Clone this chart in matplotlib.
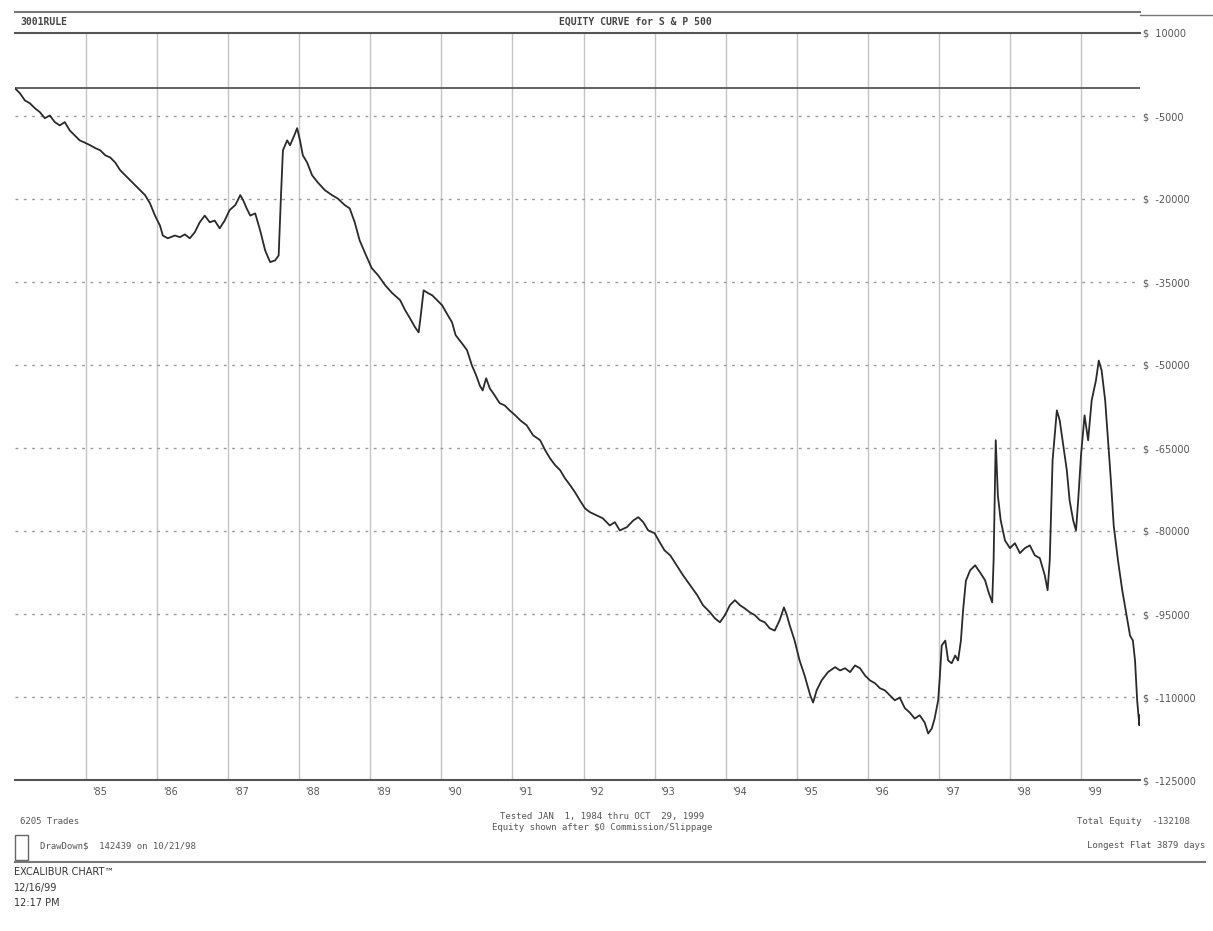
import matplotlib
matplotlib.use("Agg")
import matplotlib.pyplot as plt
from matplotlib.patches import Rectangle
from matplotlib.lines import Line2D

# ---------------- data ----------------
years = [1984.00, 1984.07, 1984.14, 1984.21, 1984.28, 1984.35, 1984.42, 1984.49, 1984.56, 1984.63,
         1984.70, 1984.77, 1984.84, 1984.91, 1984.98, 1985.06, 1985.13, 1985.20, 1985.27, 1985.34,
         1985.41, 1985.48, 1985.55, 1985.62, 1985.69, 1985.76, 1985.83, 1985.90, 1985.97, 1986.04,
         1986.08, 1986.15, 1986.25, 1986.32, 1986.39, 1986.46, 1986.53, 1986.60, 1986.67, 1986.74,
         1986.81, 1986.88, 1986.95, 1987.02, 1987.10, 1987.17, 1987.21, 1987.26, 1987.31, 1987.38,
         1987.45, 1987.52, 1987.59, 1987.66, 1987.71, 1987.74, 1987.77, 1987.83, 1987.87, 1987.93,
         1987.97, 1988.01, 1988.05, 1988.11, 1988.18, 1988.26, 1988.36, 1988.46, 1988.54, 1988.64,
         1988.71, 1988.78, 1988.85, 1988.94, 1989.02, 1989.11, 1989.21, 1989.30, 1989.42, 1989.49,
         1989.56, 1989.63, 1989.68, 1989.71, 1989.75, 1989.81, 1989.87, 1989.94, 1990.01, 1990.09,
         1990.15, 1990.20, 1990.29, 1990.36, 1990.43, 1990.49, 1990.54, 1990.58, 1990.63, 1990.68,
         1990.75, 1990.82, 1990.89, 1990.96, 1991.04, 1991.11, 1991.20, 1991.29, 1991.39, 1991.46,
         1991.53, 1991.60, 1991.67, 1991.74, 1991.81, 1991.88, 1991.95, 1992.02, 1992.09, 1992.19,
         1992.27, 1992.37, 1992.44, 1992.51, 1992.61, 1992.70, 1992.77, 1992.84, 1992.91, 1993.00,
         1993.07, 1993.14, 1993.22, 1993.31, 1993.40, 1993.50, 1993.60, 1993.68, 1993.78, 1993.85,
         1993.92, 1993.99, 1994.06, 1994.13, 1994.20, 1994.27, 1994.34, 1994.41, 1994.48, 1994.55,
         1994.62, 1994.69, 1994.76, 1994.82, 1994.86, 1994.90, 1994.97, 1995.04, 1995.11, 1995.19,
         1995.23, 1995.28, 1995.35, 1995.44, 1995.54, 1995.61, 1995.68, 1995.75, 1995.82, 1995.89,
         1995.96, 1996.03, 1996.10, 1996.17, 1996.24, 1996.31, 1996.38, 1996.45, 1996.52, 1996.59,
         1996.66, 1996.73, 1996.80, 1996.85, 1996.90, 1996.94, 1996.99, 1997.01, 1997.04, 1997.09,
         1997.13, 1997.18, 1997.23, 1997.27, 1997.31, 1997.34, 1997.38, 1997.44, 1997.51, 1997.58,
         1997.65, 1997.70, 1997.75, 1997.77, 1997.80, 1997.83, 1997.87, 1997.93, 1998.00, 1998.07,
         1998.14, 1998.21, 1998.28, 1998.35, 1998.42, 1998.49, 1998.53, 1998.56, 1998.60, 1998.66,
         1998.70, 1998.75, 1998.80, 1998.84, 1998.89, 1998.93, 1998.96, 1999.00, 1999.05, 1999.10,
         1999.15, 1999.21, 1999.25, 1999.29, 1999.34, 1999.38, 1999.42, 1999.46, 1999.52, 1999.58,
         1999.63, 1999.69, 1999.73, 1999.76, 1999.79, 1999.82, 1999.83]

equity = [0, -900, -2200, -2700, -3600, -4300, -5400, -4900, -6100, -6700,
          -6100, -7600, -8500, -9400, -9800, -10300, -10800, -11200, -12100, -12500,
          -13400, -14800, -15700, -16600, -17500, -18400, -19300, -20800, -23000, -24800,
          -26600, -27100, -26600, -26900, -26400, -27100, -26000, -24200, -23000, -24200,
          -23900, -25300, -23900, -22000, -21100, -19300, -20200, -21700, -23000, -22600,
          -25700, -29300, -31400, -31100, -30200, -20200, -11200, -9400, -10300, -8500,
          -7200, -9400, -12100, -13400, -15700, -17000, -18400, -19300, -19900, -21100,
          -21700, -24200, -27500, -30200, -32500, -33800, -35600, -36900, -38300, -40100,
          -41600, -43200, -44100, -41000, -36500, -37000, -37400, -38300, -39200, -41000,
          -42300, -44600, -46100, -47300, -50100, -51900, -53700, -54600, -52400, -54200,
          -55500, -56900, -57300, -58200, -59100, -60000, -60900, -62700, -63600, -65400,
          -66900, -68100, -69000, -70500, -71700, -73000, -74500, -75900, -76600, -77200,
          -77700, -79000, -78400, -79900, -79300, -78100, -77500, -78400, -79900, -80400,
          -82000, -83500, -84400, -86200, -88000, -89800, -91600, -93400, -94700, -95800,
          -96500, -95200, -93400, -92500, -93400, -94000, -94700, -95200, -96100, -96500,
          -97600, -98000, -96100, -93800, -95200, -97000, -99800, -103400, -106100, -109700,
          -111000, -108800, -107000, -105500, -104600, -105200, -104800, -105500, -104300, -104800,
          -106100, -107000, -107500, -108400, -108800, -109700, -110600, -110100, -112000, -112800,
          -113900, -113300, -114600, -116600, -115700, -113900, -110600, -107000, -100700, -99800,
          -103400, -103900, -102500, -103400, -99800, -94400, -89000, -87100, -86200, -87500,
          -88900, -91100, -92900, -85300, -63600, -73600, -78100, -81700, -83100, -82200,
          -84000, -83100, -82600, -84400, -84900, -88000, -90700, -85300, -67200, -58200,
          -60000, -64500, -69000, -74500, -78100, -79900, -74500, -66300, -59100, -63600,
          -56400, -52800, -49200, -51000, -56400, -63600, -70800, -79000, -85300, -90700,
          -94400, -98900, -99800, -103400, -110600, -115100, -113300]

grid_years = [1985, 1986, 1987, 1988, 1989, 1990, 1991, 1992, 1993, 1994,
              1995, 1996, 1997, 1998, 1999]
year_labels = ["'85", "'86", "'87", "'88", "'89", "'90", "'91", "'92", "'93", "'94",
               "'95", "'96", "'97", "'98", "'99"]
y_levels = [10000, -5000, -20000, -35000, -50000, -65000, -80000, -95000, -110000, -125000]

title_left = "3001RULE"
title_main = "EQUITY CURVE for S & P 500"

# ---------------- figure ----------------
W, H = 1213, 931
fig = plt.figure(figsize=(W / 100, H / 100), dpi=100)
fig.patch.set_facecolor("white")

def fx(px):
    return px / W

def fy(py):
    return 1 - py / H

ax = fig.add_axes([fx(15), fy(780), fx(1140) - fx(15), fy(33) - fy(780)])
ax.set_xlim(1984.0, 1999.83)
ax.set_ylim(y_levels[-1], y_levels[0])

# grid
for g in grid_years:
    ax.axvline(g, color="#c4c4c4", lw=1.0, zorder=1)
for lv in y_levels[1:-1]:
    ax.axhline(lv, color="#9a9a9a", lw=1.0, ls=(0, (2, 4)), zorder=1)
ax.axhline(0, color="#555555", lw=1.3, zorder=2)

ax.plot(years, equity, color="#2a2a2a", lw=1.3, zorder=3)

for s in ["left", "right"]:
    ax.spines[s].set_visible(False)
ax.spines["top"].set_color("#555555")
ax.spines["top"].set_linewidth(1.5)
ax.spines["bottom"].set_color("#555555")
ax.spines["bottom"].set_linewidth(1.5)

ax.set_xticks(grid_years)
ax.set_xticklabels(year_labels, fontsize=7, color="#555555", ha="left")
ax.tick_params(axis="x", length=0, pad=5)
for lab in ax.get_xticklabels():
    lab.set_x(0)
import matplotlib.transforms as mtrans
offset = mtrans.ScaledTranslation(6 / 100, 0, fig.dpi_scale_trans)
for lab in ax.get_xticklabels():
    lab.set_transform(lab.get_transform() + offset)

ax.yaxis.tick_right()
ax.set_yticks(y_levels)
ax.set_yticklabels([f"$  {v}" for v in y_levels], fontsize=7, color="#555555")
ax.tick_params(axis="y", length=0, pad=2)

# header
fig.add_artist(Line2D([fx(15), fx(1140)], [fy(12), fy(12)], color="#777777", lw=1.5))
fig.add_artist(Line2D([fx(1140), fx(1213)], [fy(15), fy(15)], color="#777777", lw=1.0))
fig.text(fx(20), fy(22), title_left, fontsize=7, color="#444444", va="center",
         family="DejaVu Sans Mono", weight="bold")
fig.text(fx(635), fy(22), title_main, fontsize=7, color="#444444", va="center", ha="center",
         family="DejaVu Sans Mono", weight="bold")

# footer
mono = "DejaVu Sans Mono"
fig.text(fx(20), fy(822), "6205 Trades", fontsize=6.5, color="#555555", va="center", family=mono)
fig.text(fx(602), fy(817), "Tested JAN  1, 1984 thru OCT  29, 1999", fontsize=6.5,
         color="#555555", va="center", ha="center", family=mono)
fig.text(fx(602), fy(828), "Equity shown after $0 Commission/Slippage", fontsize=6.5,
         color="#555555", va="center", ha="center", family=mono)
fig.text(fx(1190), fy(822), "Total Equity  -132108", fontsize=6.5, color="#555555",
         va="center", ha="right", family=mono)
fig.text(fx(1205), fy(846), "Longest Flat 3879 days", fontsize=6.5, color="#555555",
         va="center", ha="right", family=mono)
fig.add_artist(Rectangle((fx(15), fy(860)), fx(13), fy(835) - fy(860), fill=False,
                         edgecolor="#666666", lw=1.0))
fig.text(fx(40), fy(846), "DrawDown$  142439 on 10/21/98", fontsize=6.5, color="#555555",
         va="center", family=mono)
fig.add_artist(Line2D([fx(15), fx(1205)], [fy(862), fy(862)], color="#777777", lw=1.5))

fig.text(fx(14), fy(872), "EXCALIBUR CHART\u2122", fontsize=7, color="#333333", va="center")
fig.text(fx(14), fy(888), "12/16/99", fontsize=7, color="#333333", va="center")
fig.text(fx(14), fy(903), "12:17 PM", fontsize=7, color="#333333", va="center")

fig.savefig("out.png", dpi=100, facecolor="white")
